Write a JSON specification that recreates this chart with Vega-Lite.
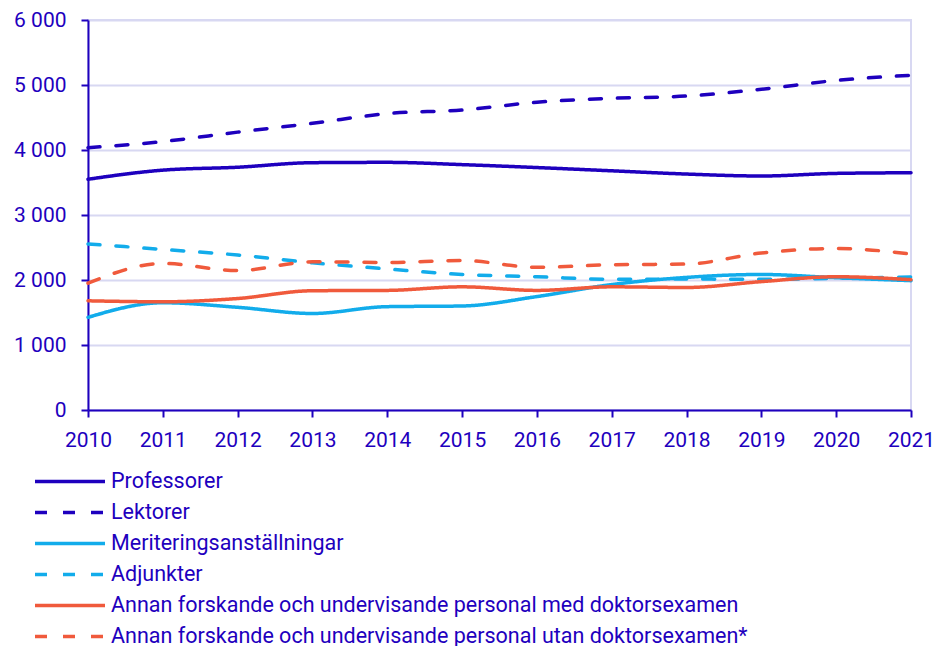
{
  "$schema": "https://vega.github.io/schema/vega-lite/v6.json",
  "autosize": {"type": "none"},
  "padding": {"left": 88, "top": 20, "right": 32, "bottom": 236},
  "width": 823,
  "height": 390,
  "background": "white",
  "config": {
    "font": "Roboto",
    "view": {"stroke": "#D8D8F2", "strokeWidth": 2},
    "axis": {
      "labelFont": "Roboto",
      "labelFontSize": 21,
      "labelColor": "#1E00BE",
      "domainColor": "#1E00BE",
      "domainWidth": 2,
      "tickColor": "#1E00BE",
      "tickWidth": 2,
      "tickSize": 7,
      "gridColor": "#D8D8F2",
      "gridWidth": 2,
      "title": null
    }
  },
  "data": {
    "values": [
      {"year": 2010, "serie": "Professorer", "value": 3550},
      {"year": 2011, "serie": "Professorer", "value": 3690},
      {"year": 2012, "serie": "Professorer", "value": 3735},
      {"year": 2013, "serie": "Professorer", "value": 3805},
      {"year": 2014, "serie": "Professorer", "value": 3810},
      {"year": 2015, "serie": "Professorer", "value": 3775},
      {"year": 2016, "serie": "Professorer", "value": 3730},
      {"year": 2017, "serie": "Professorer", "value": 3680},
      {"year": 2018, "serie": "Professorer", "value": 3630},
      {"year": 2019, "serie": "Professorer", "value": 3600},
      {"year": 2020, "serie": "Professorer", "value": 3640},
      {"year": 2021, "serie": "Professorer", "value": 3650},
      {"year": 2010, "serie": "Lektorer", "value": 4035},
      {"year": 2011, "serie": "Lektorer", "value": 4130},
      {"year": 2012, "serie": "Lektorer", "value": 4275},
      {"year": 2013, "serie": "Lektorer", "value": 4410},
      {"year": 2014, "serie": "Lektorer", "value": 4560},
      {"year": 2015, "serie": "Lektorer", "value": 4615},
      {"year": 2016, "serie": "Lektorer", "value": 4735},
      {"year": 2017, "serie": "Lektorer", "value": 4795},
      {"year": 2018, "serie": "Lektorer", "value": 4830},
      {"year": 2019, "serie": "Lektorer", "value": 4935},
      {"year": 2020, "serie": "Lektorer", "value": 5070},
      {"year": 2021, "serie": "Lektorer", "value": 5150},
      {"year": 2010, "serie": "Meriteringsanställningar", "value": 1425},
      {"year": 2011, "serie": "Meriteringsanställningar", "value": 1650},
      {"year": 2012, "serie": "Meriteringsanställningar", "value": 1580},
      {"year": 2013, "serie": "Meriteringsanställningar", "value": 1485},
      {"year": 2014, "serie": "Meriteringsanställningar", "value": 1590},
      {"year": 2015, "serie": "Meriteringsanställningar", "value": 1600},
      {"year": 2016, "serie": "Meriteringsanställningar", "value": 1745},
      {"year": 2017, "serie": "Meriteringsanställningar", "value": 1930},
      {"year": 2018, "serie": "Meriteringsanställningar", "value": 2040},
      {"year": 2019, "serie": "Meriteringsanställningar", "value": 2085},
      {"year": 2020, "serie": "Meriteringsanställningar", "value": 2035},
      {"year": 2021, "serie": "Meriteringsanställningar", "value": 1990},
      {"year": 2010, "serie": "Adjunkter", "value": 2555},
      {"year": 2011, "serie": "Adjunkter", "value": 2470},
      {"year": 2012, "serie": "Adjunkter", "value": 2385},
      {"year": 2013, "serie": "Adjunkter", "value": 2265},
      {"year": 2014, "serie": "Adjunkter", "value": 2170},
      {"year": 2015, "serie": "Adjunkter", "value": 2085},
      {"year": 2016, "serie": "Adjunkter", "value": 2050},
      {"year": 2017, "serie": "Adjunkter", "value": 2010},
      {"year": 2018, "serie": "Adjunkter", "value": 2015},
      {"year": 2019, "serie": "Adjunkter", "value": 2010},
      {"year": 2020, "serie": "Adjunkter", "value": 2025},
      {"year": 2021, "serie": "Adjunkter", "value": 2045},
      {"year": 2010, "serie": "Annan forskande och undervisande personal med doktorsexamen", "value": 1680},
      {"year": 2011, "serie": "Annan forskande och undervisande personal med doktorsexamen", "value": 1665},
      {"year": 2012, "serie": "Annan forskande och undervisande personal med doktorsexamen", "value": 1715},
      {"year": 2013, "serie": "Annan forskande och undervisande personal med doktorsexamen", "value": 1835},
      {"year": 2014, "serie": "Annan forskande och undervisande personal med doktorsexamen", "value": 1840},
      {"year": 2015, "serie": "Annan forskande och undervisande personal med doktorsexamen", "value": 1895},
      {"year": 2016, "serie": "Annan forskande och undervisande personal med doktorsexamen", "value": 1840},
      {"year": 2017, "serie": "Annan forskande och undervisande personal med doktorsexamen", "value": 1895},
      {"year": 2018, "serie": "Annan forskande och undervisande personal med doktorsexamen", "value": 1885},
      {"year": 2019, "serie": "Annan forskande och undervisande personal med doktorsexamen", "value": 1975},
      {"year": 2020, "serie": "Annan forskande och undervisande personal med doktorsexamen", "value": 2050},
      {"year": 2021, "serie": "Annan forskande och undervisande personal med doktorsexamen", "value": 2005},
      {"year": 2010, "serie": "Annan forskande och undervisande personal utan doktorsexamen*", "value": 1950},
      {"year": 2011, "serie": "Annan forskande och undervisande personal utan doktorsexamen*", "value": 2255},
      {"year": 2012, "serie": "Annan forskande och undervisande personal utan doktorsexamen*", "value": 2145},
      {"year": 2013, "serie": "Annan forskande och undervisande personal utan doktorsexamen*", "value": 2280},
      {"year": 2014, "serie": "Annan forskande och undervisande personal utan doktorsexamen*", "value": 2270},
      {"year": 2015, "serie": "Annan forskande och undervisande personal utan doktorsexamen*", "value": 2300},
      {"year": 2016, "serie": "Annan forskande och undervisande personal utan doktorsexamen*", "value": 2195},
      {"year": 2017, "serie": "Annan forskande och undervisande personal utan doktorsexamen*", "value": 2235},
      {"year": 2018, "serie": "Annan forskande och undervisande personal utan doktorsexamen*", "value": 2245},
      {"year": 2019, "serie": "Annan forskande och undervisande personal utan doktorsexamen*", "value": 2415},
      {"year": 2020, "serie": "Annan forskande och undervisande personal utan doktorsexamen*", "value": 2485},
      {"year": 2021, "serie": "Annan forskande och undervisande personal utan doktorsexamen*", "value": 2400}
    ]
  },
  "mark": {"type": "line", "strokeWidth": 3.5, "interpolate": "monotone", "strokeCap": "round"},
  "encoding": {
    "x": {
      "field": "year",
      "type": "quantitative",
      "scale": {"domain": [2010, 2021], "nice": false, "zero": false},
      "axis": {
        "values": [2010, 2011, 2012, 2013, 2014, 2015, 2016, 2017, 2018, 2019, 2020, 2021],
        "format": "d",
        "grid": false,
        "labelPadding": 12,
        "labelFlush": false
      }
    },
    "y": {
      "field": "value",
      "type": "quantitative",
      "scale": {"domain": [0, 6000], "nice": false},
      "axis": {
        "values": [0, 1000, 2000, 3000, 4000, 5000, 6000],
        "labelExpr": "replace(format(datum.value, ',d'), ',', ' ')",
        "labelPadding": 15,
        "grid": true
      }
    },
    "color": {
      "field": "serie",
      "type": "nominal",
      "scale": {
        "domain": ["Professorer", "Lektorer", "Meriteringsanställningar", "Adjunkter", "Annan forskande och undervisande personal med doktorsexamen", "Annan forskande och undervisande personal utan doktorsexamen*"],
        "range": ["#1E00BE", "#1E00BE", "#12ACEB", "#12ACEB", "#F05A3C", "#F05A3C"]
      },
      "legend": {
        "title": null,
        "orient": "none",
        "legendX": -55,
        "legendY": 449.5,
        "symbolType": "stroke",
        "symbolSize": 4900,
        "symbolStrokeWidth": 3.5,
        "clipHeight": 24,
        "labelFont": "Roboto",
        "labelFontSize": 21.5,
        "labelColor": "#1E00BE",
        "labelOffset": 4,
        "labelLimit": 900,
        "rowPadding": 7
      }
    },
    "strokeDash": {
      "field": "serie",
      "type": "nominal",
      "scale": {
        "domain": ["Professorer", "Lektorer", "Meriteringsanställningar", "Adjunkter", "Annan forskande och undervisande personal med doktorsexamen", "Annan forskande och undervisande personal utan doktorsexamen*"],
        "range": [[1, 0], [12, 16], [1, 0], [12, 16], [1, 0], [12, 16]]
      },
      "legend": {
        "title": null,
        "orient": "none",
        "legendX": -55,
        "legendY": 449.5,
        "symbolType": "stroke",
        "symbolSize": 4900,
        "symbolStrokeWidth": 3.5,
        "clipHeight": 24,
        "labelFont": "Roboto",
        "labelFontSize": 21.5,
        "labelColor": "#1E00BE",
        "labelOffset": 4,
        "labelLimit": 900,
        "rowPadding": 7
      }
    }
  }
}
